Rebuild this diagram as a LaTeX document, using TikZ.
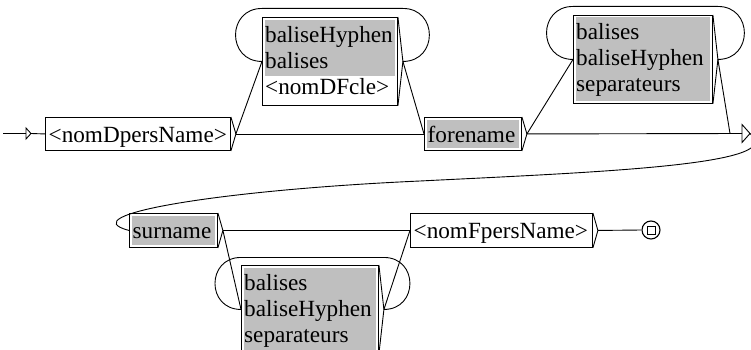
\documentclass[tikz,border=0pt]{standalone}
\usepackage{fontspec}
\setmainfont{Liberation Serif}
\usetikzlibrary{calc}
\newcommand\labfont{\fontsize{23.2pt}{26pt}\selectfont}
\begin{document}
\begin{tikzpicture}[x=1pt,y=-1pt,
  box/.style={draw, line width=0.9pt, inner sep=0pt, anchor=north west},
  lbl/.style={anchor=base west, inner sep=0pt, font=\labfont},
  greyf/.style={fill=black!25},
  wire/.style={line width=0.9pt},
]
\useasboundingbox (0,0) rectangle (751,350);

% boxes
\node[box, minimum width=185pt, minimum height=33pt] (A) at (45,117) {};
\node[box, minimum width=135pt, minimum height=88pt] (B) at (262,17) {};
\node[box, minimum width=97pt,  minimum height=33pt] (F) at (424,117) {};
\node[box, minimum width=139pt, minimum height=88pt] (C) at (573,15) {};
\node[box, minimum width=88pt,  minimum height=34pt] (S) at (129,213) {};
\node[box, minimum width=182pt, minimum height=34pt] (N) at (410,213) {};
\node[box, minimum width=137pt, minimum height=88pt] (D) at (241,265) {};

% grey fills
\fill[greyf] ($(B.north west)+(2.5,3)$) rectangle ($(B.north east)+(-2.5,59)$);
\fill[greyf] ($(F.north west)+(2.5,2.5)$) rectangle ($(F.south east)+(-2.5,-2.5)$);
\fill[greyf] ($(C.north west)+(2.5,2.5)$) rectangle ($(C.south east)+(-2.5,-2.5)$);
\fill[greyf] ($(S.north west)+(2.5,2.5)$) rectangle ($(S.south east)+(-2.5,-2.5)$);
\fill[greyf] ($(D.north west)+(2.5,2.5)$) rectangle ($(D.south east)+(-2.5,-2.5)$);

% output triangles of boxes
\foreach \b in {A,B,F,C,S,N,D}{
  \coordinate (\b o) at ($(\b.east)+(5,0)$);
  \draw[wire] (\b.north east) -- (\b o) -- (\b.south east);
}

% labels
\node[lbl] (tA) at (48.5,142) {<nomDpersName>};
\node[lbl] (tB1) at (265,43) {baliseHyphen};
\node[lbl] (tB2) at (265,69) {balises};
\node[lbl] (tB3) at (265,95) {<nomDFcle>};
\node[lbl] (tF) at (427.5,142) {forename};
\node[lbl] (tC1) at (576,40) {balises};
\node[lbl] (tC2) at (576,66) {baliseHyphen};
\node[lbl] (tC3) at (576,92) {separateurs};
\node[lbl] (tS) at (132.5,238.5) {surname};
\node[lbl] (tN) at (413.5,238.5) {<nomFpersName>};
\node[lbl] (tD1) at (244,290) {balises};
\node[lbl] (tD2) at (244,316) {baliseHyphen};
\node[lbl] (tD3) at (244,342) {separateurs};

% initial state
\coordinate (s0) at (3,133.5);
\coordinate (sb) at (26,133.5);
\coordinate (sa) at (31,133.5);
\draw[wire] (s0) -- (sb);
\draw[wire] ($(sb)+(0,-5.5)$) -- (sa) -- ($(sb)+(0,5.5)$) -- cycle;
\draw[wire] (sa) -- (A.west);

% epsilon box at the right
\coordinate (Ein) at (730,133.5);
\coordinate (Eb) at (742,133.5);
\coordinate (Ea) at (750,133.5);
\draw[wire] ($(Eb)+(0,-9)$) -- (Ea) -- ($(Eb)+(0,9)$) -- cycle;

% final state
\node[draw, circle, minimum size=18pt, inner sep=0pt, line width=1.1pt] (fin) at (651,230) {};
\node[draw, minimum size=8pt, inner sep=0pt, line width=0.9pt] (finsq) at (fin.center) {};

% transitions
\draw[wire] (Ao) -- (B.west);
\draw[wire] (Ao) -- (F.west);
\draw[wire] (Bo) -- (F.west);
\draw[wire] (Fo) -- (C.west);
\draw[wire] (Fo) -- (Eb);
\draw[wire] (Co) -- (Ein);
\draw[wire] (So) -- (N.west);
\draw[wire] (So) -- (D.west);
\draw[wire] (Do) -- (N.west);
\draw[wire] (No) -- (fin.west);

% loops
\draw[wire] (B.west) .. controls +(-35.3,0) and +(-35.3,0) .. ($(B.west)+(0,-53)$)
  -- ($(Bo)+(0,-53)$) .. controls +(35.3,0) and +(35.3,0) .. (Bo);
\draw[wire] (C.west) .. controls +(-35.3,0) and +(-35.3,0) .. ($(C.west)+(0,-53)$)
  -- ($(Co)+(0,-53)$) .. controls +(35.3,0) and +(35.3,0) .. (Co);
\draw[wire] (D.west) .. controls +(-34.7,0) and +(-34.7,0) .. ($(D.west)+(0,-52)$)
  -- ($(Do)+(0,-52)$) .. controls +(34.7,0) and +(34.7,0) .. (Do);

% long backward transition
\coordinate (mid) at (420,181);
\draw[wire] (Ea) .. controls (790,165) and (600,172) .. (mid)
  .. controls (220,190) and (70,215) .. (S.west);
\end{tikzpicture}
\end{document}
